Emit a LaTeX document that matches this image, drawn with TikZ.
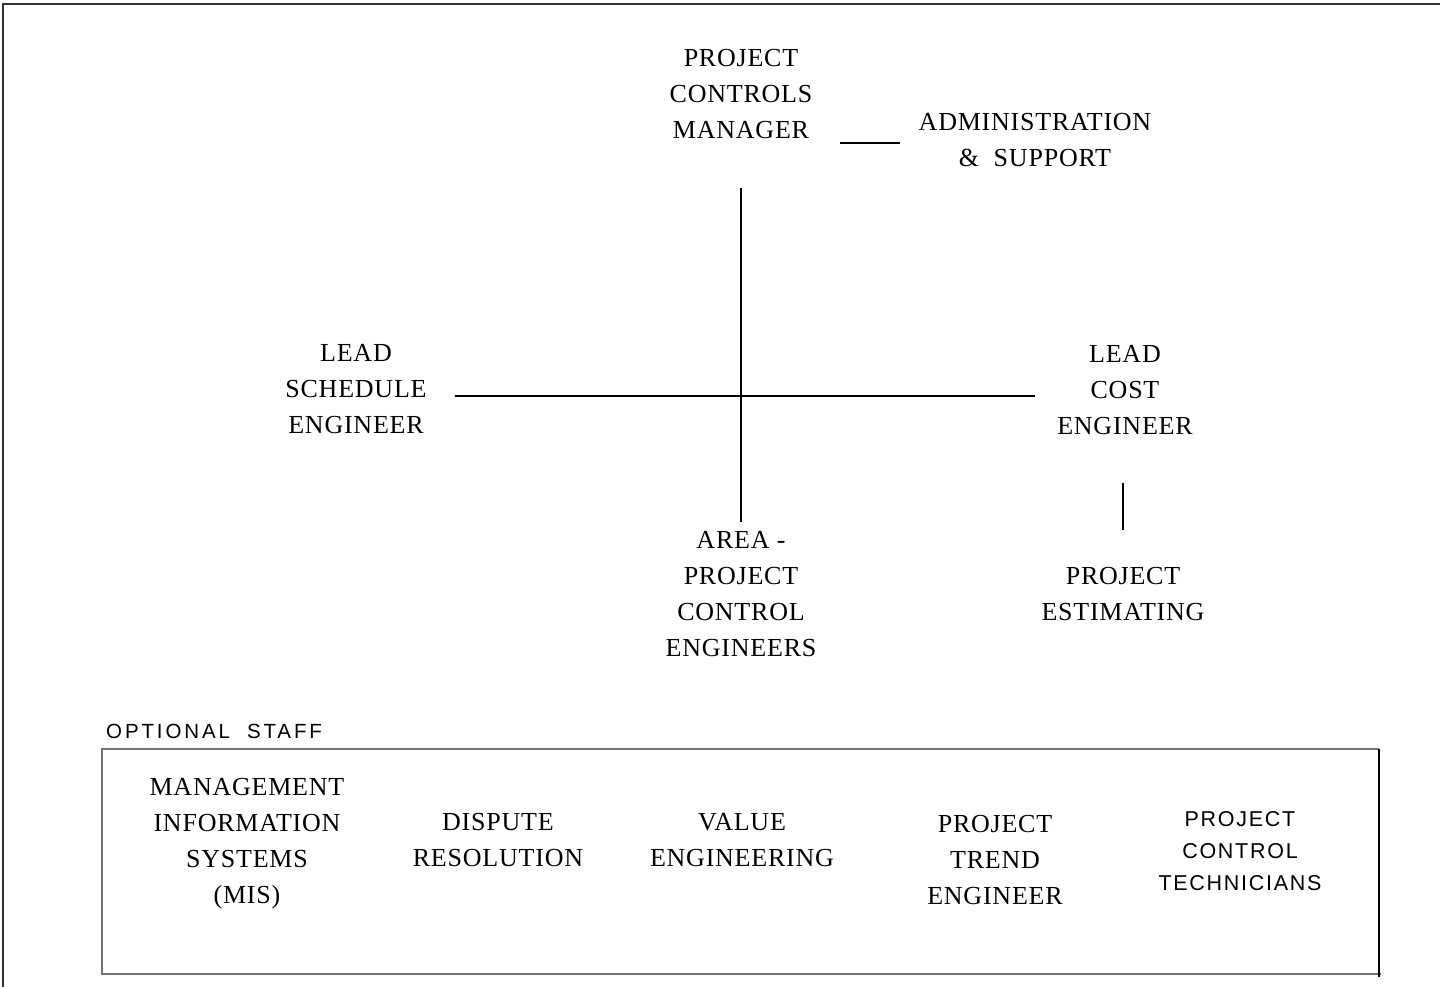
\documentclass[tikz,border=0pt]{standalone}
\usepackage{fontspec}
\setmainfont{Liberation Serif}[LetterSpace=3]
\newfontfamily\labelsans{Liberation Sans}[LetterSpace=8]
\newfontfamily\headsans{Liberation Sans}[LetterSpace=14]
\usetikzlibrary{calc}
\begin{document}
\begin{tikzpicture}[x=1pt,y=-1pt,
  role/.style={inner sep=0pt,align=center,font=\fontsize{26}{36}\selectfont},
  rolesans/.style={inner sep=0pt,align=center,font=\labelsans\fontsize{21.5}{32}\selectfont},
  link/.style={line width=1.3pt,black},
  frameline/.style={line width=2pt,black!80}]
\useasboundingbox (0,0) rectangle (1440,987);

% sheet frame (top and left edges)
\draw[frameline] (3,987) -- (3,4) -- (1440,4);

% core organisation
\node[role] (pcm)   at (741,94)  {PROJECT\\CONTROLS\\MANAGER};
\node[role] (admin) at (1035,140) {ADMINISTRATION\\\&\ \ SUPPORT};
\node[role] (lse)   at (356,389) {LEAD\\SCHEDULE\\ENGINEER};
\node[role] (lce)   at (1125,390) {LEAD\\COST\\ENGINEER};
\node[role] (area)  at (741,594) {AREA -\\PROJECT\\CONTROL\\ENGINEERS};
\node[role] (pe)    at (1123,594) {PROJECT\\ESTIMATING};

% connector end points
\coordinate (pcmdown)  at (pcm.south |- 0,188);
\coordinate (areaup)   at (pcm.south |- 0,522);
\coordinate (adminl)   at (840,143);
\coordinate (adminr)   at (900,143);
\coordinate (lseright) at (455,396);
\coordinate (lceleft)  at (1035,396);
\coordinate (lcedown)  at (1123,483);
\coordinate (peup)     at (1123,530);

\draw[link] (pcmdown) -- (areaup);
\draw[link] (adminl) -- (adminr);
\draw[link] (lseright) -- (lceleft);
\draw[link] (lcedown) -- (peup);

% optional staff panel
\node[inner sep=0pt,anchor=west,font=\headsans\fontsize{20.5}{22}\selectfont] (opt) at (106,731) {OPTIONAL\ \ STAFF};
\draw[line width=1.2pt,black!55] (1379,749) -- (102,749) -- (102,974) -- (1381,974);
\draw[line width=1.2pt,black] (1379,749) -- (1379,977);

\node[role] (mis) at (247,844) {MANAGEMENT\\INFORMATION\\SYSTEMS\\(MIS)};
\node[role] (dr)  at (498,840) {DISPUTE\\RESOLUTION};
\node[role] (ve)  at (742,840) {VALUE\\ENGINEERING};
\node[role] (pte) at (995,860) {PROJECT\\TREND\\ENGINEER};
\node[rolesans] (pct) at (1240,851) {PROJECT\\CONTROL\\TECHNICIANS};
\end{tikzpicture}
\end{document}
